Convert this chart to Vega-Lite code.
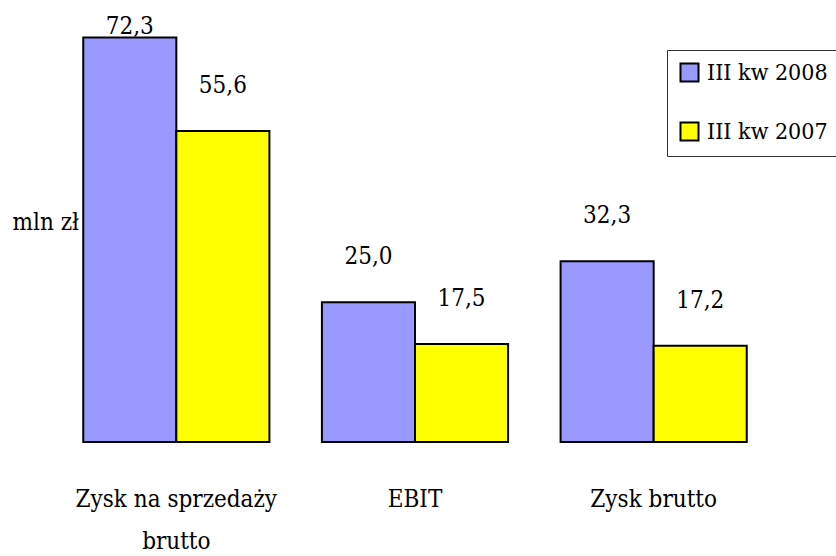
{
  "$schema": "https://vega.github.io/schema/vega-lite/v6.json",
  "width": 716,
  "height": 442,
  "autosize": "none",
  "padding": {"left": 57, "top": 0, "right": 63, "bottom": 114},
  "background": "white",
  "config": {
    "view": {"stroke": null},
    "font": "DejaVu Serif Condensed, DejaVu Serif",
    "locale": {"number": {"decimal": ",", "thousands": " ", "grouping": [3], "currency": ["", " zł"]}}
  },
  "data": {
    "values": [
      {"kategoria": "Zysk na sprzedaży brutto", "okres": "III kw 2008", "wartosc": 72.3},
      {"kategoria": "Zysk na sprzedaży brutto", "okres": "III kw 2007", "wartosc": 55.6},
      {"kategoria": "EBIT", "okres": "III kw 2008", "wartosc": 25.0},
      {"kategoria": "EBIT", "okres": "III kw 2007", "wartosc": 17.5},
      {"kategoria": "Zysk brutto", "okres": "III kw 2008", "wartosc": 32.3},
      {"kategoria": "Zysk brutto", "okres": "III kw 2007", "wartosc": 17.2}
    ]
  },
  "encoding": {
    "x": {
      "field": "kategoria",
      "type": "nominal",
      "sort": null,
      "scale": {"paddingInner": 0.22, "paddingOuter": 0.11},
      "axis": {
        "title": null,
        "domain": false,
        "ticks": false,
        "tickSize": 0,
        "labelPadding": 45,
        "labelFont": "DejaVu Serif Condensed, DejaVu Serif",
        "labelFontSize": 24,
        "labelColor": "black",
        "labelBaseline": "top",
        "labelLineHeight": 42,
        "labelAngle": 0,
        "labelLimit": 0,
        "labelExpr": "datum.label == 'Zysk na sprzedaży brutto' ? ['Zysk na sprzedaży', 'brutto'] : datum.label"
      }
    },
    "xOffset": {
      "field": "okres",
      "type": "nominal",
      "sort": ["III kw 2008", "III kw 2007"],
      "scale": {"paddingInner": 0, "paddingOuter": 0}
    },
    "y": {
      "field": "wartosc",
      "type": "quantitative",
      "scale": {"domain": [0, 79], "nice": false, "zero": true},
      "axis": {
        "title": "mln zł",
        "titleFont": "DejaVu Serif Condensed, DejaVu Serif",
        "titleAngle": 0,
        "titleX": -45,
        "titleY": 222,
        "titleAlign": "left",
        "titleBaseline": "middle",
        "titleFontSize": 24,
        "titleFontWeight": "normal",
        "titleColor": "black",
        "domain": false,
        "ticks": false,
        "labels": false,
        "grid": false
      }
    }
  },
  "layer": [
    {
      "mark": {"type": "bar", "stroke": "black", "strokeWidth": 2},
      "encoding": {
        "color": {
          "field": "okres",
          "type": "nominal",
          "sort": ["III kw 2008", "III kw 2007"],
          "scale": {"domain": ["III kw 2008", "III kw 2007"], "range": ["#9999FF", "#FFFF00"]},
          "legend": {
            "title": null,
            "orient": "none",
            "legendX": 610,
            "legendY": 50,
            "direction": "vertical",
            "symbolType": "square",
            "symbolSize": 324,
            "symbolStrokeColor": "black",
            "symbolStrokeWidth": 2,
            "symbolOpacity": 1,
            "labelFont": "DejaVu Serif Condensed, DejaVu Serif",
            "labelFontSize": 23,
            "labelColor": "black",
            "labelOffset": 6,
            "labelLimit": 0,
            "rowPadding": 32,
            "padding": 11,
            "offset": 0,
            "strokeColor": "#333333",
            "fillColor": "white"
          }
        }
      }
    },
    {
      "transform": [{"filter": "datum.wartosc < 70"}],
      "mark": {"type": "text", "font": "DejaVu Serif Condensed, DejaVu Serif", "dy": -45, "baseline": "middle", "align": "center", "fontSize": 24, "color": "black"},
      "encoding": {"text": {"field": "wartosc", "type": "quantitative", "format": ".1f"}}
    },
    {
      "transform": [{"filter": "datum.wartosc >= 70"}],
      "mark": {"type": "text", "font": "DejaVu Serif Condensed, DejaVu Serif", "dy": -10, "baseline": "middle", "align": "center", "fontSize": 24, "color": "black"},
      "encoding": {"text": {"field": "wartosc", "type": "quantitative", "format": ".1f"}}
    }
  ]
}
